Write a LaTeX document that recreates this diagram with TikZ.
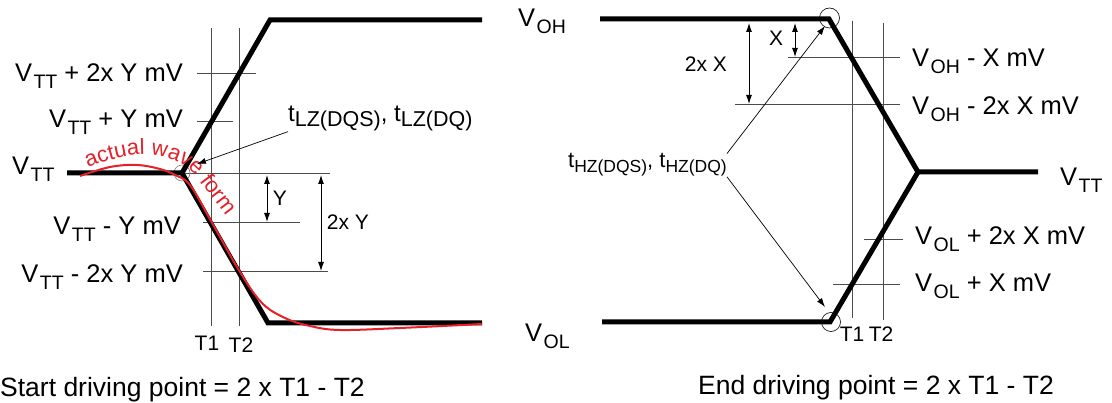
\documentclass[tikz,border=0pt]{standalone}
\usepackage{fontspec}
\setmainfont{Liberation Sans}
\usetikzlibrary{arrows.meta,decorations.text}
\definecolor{wavered}{RGB}{230,32,40}
% subscript of a level name, a bit apart from the V
\newcommand{\lowidx}[2][19.5]{\kern1.5pt\raisebox{-7pt}{\fontsize{#1}{#1}\selectfont #2}}
% subscript of a timing name
\newcommand{\tsub}[2]{\raisebox{-5pt}{\fontsize{#1}{#1}\selectfont #2}}
\tikzset{
  level/.style = {line width = 5pt},
  ref/.style = {line width = 0.9pt, black!70},
  dim/.style = {line width = 0.9pt, {Latex[length=9pt,width=6pt]}-{Latex[length=9pt,width=6pt]}},
  pointer/.style = {line width = 0.7pt, -{Latex[length=9pt,width=6pt]}},
  big/.style = {inner sep = 0pt, font = \fontsize{25.5}{25.5}\selectfont},
  small/.style = {inner sep = 0pt, font = \fontsize{21}{21}\selectfont},
}
\begin{document}
\begin{tikzpicture}[x = 1pt, y = -1pt]
  \useasboundingbox (0,0) rectangle (1112,403);
  % left waveform
  \coordinate (A0) at (67,173);
  \coordinate (A1) at (182,173);
  \coordinate (A2) at (270,20);
  \coordinate (A3) at (482,20);
  \coordinate (A4) at (268,323);
  \coordinate (A5) at (482,323);
  % right waveform
  \coordinate (B0) at (600,19);
  \coordinate (B1) at (829,19);
  \coordinate (B2) at (918,172);
  \coordinate (B3) at (1038,172);
  \coordinate (B4) at (830,322);
  \coordinate (B5) at (602,322);
  % left reference lines
  \draw[ref] (211,28) -- (211,326);
  \draw[ref] (239,28) -- (239,326);
  \draw[ref] (197,73) -- (256,73);
  \draw[ref] (197,121) -- (233,121);
  \draw[ref] (182,173) -- (330,173);
  \draw[ref] (203,222) -- (300,222);
  \draw[ref] (203,271) -- (328,271);
  % right reference lines
  \draw[ref] (852,21) -- (852,318);
  \draw[ref] (883,23) -- (883,320);
  \draw[ref] (788,57) -- (900,57);
  \draw[ref] (735,104) -- (900,104);
  \draw[ref] (864,239) -- (903,239);
  \draw[ref] (833,284) -- (900,284);
  % corner marks
  \draw[black!50, line width = 0.6pt] (A1) circle (8pt);
  \draw[line width = 0.6pt] (829.5,18) circle (10pt);
  \draw[line width = 0.6pt] (831,322) circle (9.5pt);
  % waveforms
  \draw[level] (A0) -- (A1) -- (A2) -- (A3);
  \draw[level] (A1) -- (A4) -- (A5);
  \draw[level] (B0) -- (B1) -- (B2) -- (B3);
  \draw[level] (B2) -- (B4) -- (B5);
  % actual wave form
  \draw[wavered, line width = 2pt] plot[smooth, tension = 0.6] coordinates {(80,176) (110,167) (137,165) (160,169) (175,175) (190,185) (211,221) (240,272) (262,303) (285,318) (310,326) (340,330) (400,328) (482,324)};
  \path[decorate, decoration = {text along path, text color = wavered,
      text = {|\fontsize{22}{22}\selectfont|actual wave form}}]
    (88,168) .. controls (135,148) and (172,150) .. (196,176) -- (240,234);
  % dimension arrows
  \draw[dim] (267,175) -- (267,222);
  \draw[dim] (321,175) -- (321,271);
  \draw[dim] (749,23) -- (749,104);
  \draw[dim] (795,23) -- (795,57);
  \node[small] (y1) at (280,198) {Y};
  \node[small] (y2) at (348,222) {2x Y};
  \node[small] (x1) at (776,38) {X};
  \node[small] (x2) at (706,64) {2x X};
  % time marks
  \node[small] (t1l) at (207,343) {T1};
  \node[small] (t2l) at (241,345) {T2};
  \node[small] (t1r) at (852,334) {T1};
  \node[small] (t2r) at (881,334) {T2};
  % left levels
  \node[big, anchor = base west] (vtt) at (12,175) {V\lowidx{TT}};
  \node[big, anchor = base east] (vp2) at (183,82) {V\lowidx{TT} + 2x Y mV};
  \node[big, anchor = base east] (vp1) at (183,128) {V\lowidx{TT} + Y mV};
  \node[big, anchor = base east] (vm1) at (181,235) {V\lowidx{TT} - Y mV};
  \node[big, anchor = base east] (vm2) at (183,283) {V\lowidx{TT} - 2x Y mV};
  % right levels
  \node[big, anchor = base west] (voh) at (518,27) {V\lowidx{OH}};
  \node[big, anchor = base west] (vol) at (525,342) {V\lowidx{OL}};
  \node[big, anchor = base west] (vttr) at (1060,186) {V\lowidx{TT}};
  \node[big, anchor = base west] (vohx) at (912,67) {V\lowidx{OH} - X mV};
  \node[big, anchor = base west] (vohxx) at (912,115) {V\lowidx{OH} - 2x X mV};
  \node[big, anchor = base west] (volxx) at (915,245) {V\lowidx{OL} + 2x X mV};
  \node[big, anchor = base west] (volx) at (915,292) {V\lowidx{OL} + X mV};
  % timing names
  \node[anchor = base west, inner sep = 0pt, font = \fontsize{24}{24}\selectfont] (tlz) at (288,122) {t\tsub{21.5}{LZ(DQS)}, t\tsub{21.5}{LZ(DQ)}};
  \node[anchor = base west, inner sep = 0pt, font = \fontsize{22}{22}\selectfont] (thz) at (568,168) {t\tsub{17.5}{HZ(DQS)}, t\tsub{17.5}{HZ(DQ)}};
  \coordinate (lztip) at (197,164);
  \coordinate (hztop) at (825,26);
  \coordinate (hzbot) at (825,307);
  \draw[pointer] (tlz.south west) -- (lztip);
  \draw[pointer] (thz.north east) -- (hztop);
  \draw[pointer] (thz.south east) -- (hzbot);
  % driving points
  \node[anchor = base west, inner sep = 0pt, font = \fontsize{26.5}{26.5}\selectfont] (start) at (0,397) {Start driving point = 2 x T1 - T2};
  \node[anchor = base west, inner sep = 0pt, font = \fontsize{26.5}{26.5}\selectfont] (end) at (698,395) {End driving point = 2 x T1 - T2};
\end{tikzpicture}
\end{document}
